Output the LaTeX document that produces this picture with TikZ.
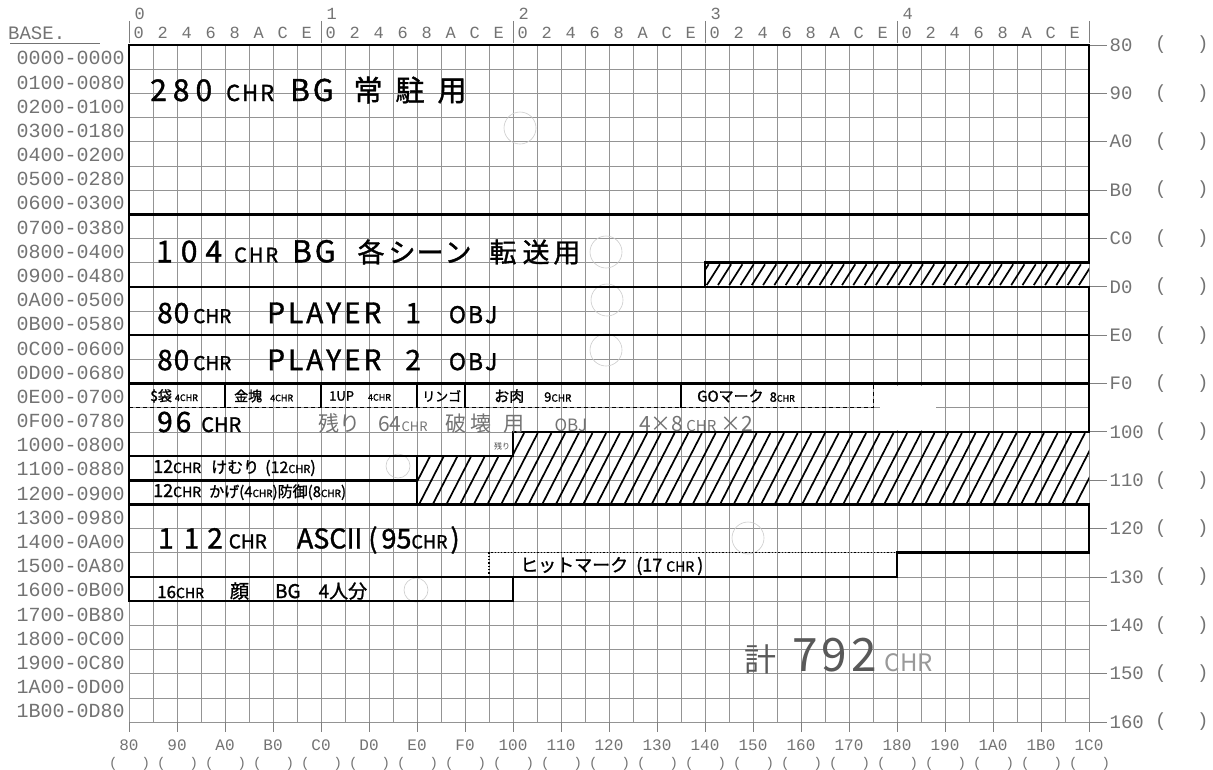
\documentclass[tikz,border=0pt]{standalone}
\usepackage{fontspec}
\newfontfamily\hand[FakeBold=1.3]{Noto Sans CJK JP}
\newfontfamily\pen{Noto Sans CJK JP}
\newfontfamily\prt{Liberation Mono}
\newcommand\fs[1]{\fontsize{#1}{#1}\selectfont}
\newcommand\hs[1]{\hspace{#1pt}}
\begin{document}
\begin{tikzpicture}[x=1pt,y=-1pt,
  gridl/.style={draw=black!42, line width=0.7pt},
  tickl/.style={draw=black!50, line width=0.8pt},
  blk/.style={draw=black, line width=2.6pt, line join=miter},
  hatchl/.style={draw=black, line width=1.7pt},
  prl/.style={font=\prt\fs{19}, text=black!55, inner sep=0pt},
  hw/.style={font=\hand, text=black, inner sep=0pt, anchor=west},
  pencil/.style={font=\pen, text=black!55, inner sep=0pt, anchor=west},
  stamp/.style={draw=black!20, line width=0.6pt, circle, minimum size=32pt, inner sep=0pt}]

\fill[white] (0,0) rectangle (1213,769);
\useasboundingbox (0,0) rectangle (1213,769);

% ---------- grid (grid units) ----------
\begin{scope}[shift={(129pt,-45pt)}, x=24pt, y=-24.18pt]
  \foreach \c in {0,...,40} \draw[gridl] (\c,0) -- (\c,28);
  \foreach \r in {0,...,28} \draw[gridl] (0,\r) -- (40,\r);
  \foreach \c in {0,2,...,40} \draw[tickl] (\c,28) -- (\c,28.4);
  \foreach \r in {0,2,...,28} \draw[tickl] (40,\r) -- (40.75,\r);
  \foreach \g in {0,...,5} \draw[tickl] (8*\g,-1.0) -- (8*\g,-0.1);
  % header labels
  \foreach \g in {0,...,4} {
    \node[prl, font=\prt\fs{17}] (hg\g) at (8*\g+0.45,-1.3) {\g};
    \foreach \d [count=\i from 0] in {0,2,4,6,8,A,C,E}
      \node[prl, font=\prt\fs{17}] (h\g-\i) at (8*\g+\i+0.4,-0.5) {\d};
  }
  % left labels
  \foreach \lab [count=\i from 0] in {0000-0000,0100-0080,0200-0100,0300-0180,0400-0200,0500-0280,0600-0300,0700-0380,0800-0400,0900-0480,0A00-0500,0B00-0580,0C00-0600,0D00-0680,0E00-0700,0F00-0780,1000-0800,1100-0880,1200-0900,1300-0980,1400-0A00,1500-0A80,1600-0B00,1700-0B80,1800-0C00,1900-0C80,1A00-0D00,1B00-0D80}
    \node[prl, anchor=east, font=\prt\fs{20}] (L\i) at (-0.17,\i+0.55) {\lab};
  % right labels
  \foreach \lab [count=\i from 0] in {80,90,A0,B0,C0,D0,E0,F0,100,110,120,130,140,150,160} {
    \node[prl, anchor=west] (R\i) at (40.85,2*\i) {\lab};
    \node[prl, anchor=west] (Ro\i) at (42.75,2*\i) {(};
    \node[prl, anchor=west] (Rc\i) at (44.5,2*\i) {)};
  }
  % bottom labels
  \foreach \lab [count=\i from 0] in {80,90,A0,B0,C0,D0,E0,F0,100,110,120,130,140,150,160,170,180,190,1A0,1B0,1C0} {
    \node[prl, font=\prt\fs{16}] (B\i) at (2*\i,28.95) {\lab};
    \node[prl, font=\prt\fs{14}] (Bo\i) at (2*\i-0.65,29.72) {(};
    \node[prl, font=\prt\fs{14}] (Bc\i) at (2*\i+0.7,29.72) {)};
  }
\end{scope}

% BASE label
\node[prl, anchor=west] (base) at (8,33) {BASE.};
\draw[draw=black!55, line width=0.7pt] (10,43) -- (100,43);

% correction fluid patch
\fill[white] (880,386) rectangle (936,430);

% faint stamps
\node[stamp] (s1) at (520,128) {};
\node[stamp] (s2) at (606,252) {};
\node[stamp] (s3) at (607,300) {};
\node[stamp] (s4) at (606,350) {};
\node[stamp, minimum size=24pt] (s5) at (398,466) {};
\node[stamp] (s6) at (748,538) {};
\node[stamp, minimum size=24pt] (s7) at (416,590) {};

% ---------- blocks (grid units) ----------
\begin{scope}[shift={(129pt,-45pt)}, x=24pt, y=-24.18pt]
  % hatching
  \begin{scope}
    \clip (24,9) rectangle (40,10);
    \foreach \s in {23.6,24.07,...,40.6} \draw[hatchl] (\s,9.93) -- (\s+0.55,9.07);
  \end{scope}
  \begin{scope}
    \clip (16,16) -- (40,16) -- (40,19) -- (12,19) -- (12,17) -- (16,17) -- cycle;
    \foreach \s in {10.4,10.97,...,40.6} \draw[hatchl] (\s,18.95) -- (\s+1.5,16.05);
  \end{scope}
  % block outlines
  \draw[blk] (0,0) rectangle (40,7);
  \draw[blk] (0,7) -- (40,7) -- (40,9) -- (24,9) -- (24,10) -- (0,10) -- cycle;
  \draw[blk] (0,10) rectangle (40,12);
  \draw[blk] (0,12) rectangle (40,14);
  \draw[blk] (0,14) -- (40,14) -- (40,16) -- (16,16) -- (16,17) -- (0,17) -- cycle;
  \draw[blk] (0,17) rectangle (12,18);
  \draw[blk] (0,18) rectangle (12,19);
  \draw[blk] (0,19) -- (40,19) -- (40,21) -- (32,21) -- (32,22) -- (0,22) -- cycle;
  \draw[blk] (0,22) rectangle (16,23);
  % row 14 subdivisions
  \draw[black, line width=1pt, dash pattern=on 4pt off 3pt] (0,15) -- (31,15) -- (31,14);
  \foreach \c in {4,8,12,14,23} \draw[black, line width=1.2pt] (\c,14) -- (\c,15);
  % hit mark dotted outline
  \draw[black, line width=1.3pt, dotted] (15,22) -- (15,21) -- (32,21);
\end{scope}

% ---------- handwritten texts ----------
\node[hw] (t1) at (150,90) {\fs{30}2\hs{6}8\hs{6}0\hs{14}\fs{22}C\hs{2}H\hs{2}R\hs{16}\fs{30}B\hs{3}G\hs{20}\fs{29}常\hs{13}駐\hs{13}用};
\node[hw] (t2) at (156,252) {\fs{30}1\hs{8}0\hs{8}4\hs{12}\fs{20}C\hs{2}H\hs{2}R\hs{14}\fs{30}B\hs{3}G\hs{22}\fs{27}各\hs{4}シ\hs{1}ー\hs{1}ン\hs{18}転\hs{6}送\hs{4}用};
\node[hw] (t3) at (157,313) {\fs{28}8\hs{1}0\hs{4}\fs{19}CHR\hs{36}\fs{28}P\hs{3}L\hs{3}A\hs{3}Y\hs{3}E\hs{3}R\hs{24}1\hs{28}\fs{23}O\hs{2}B\hs{2}J};
\node[hw] (t4) at (157,360) {\fs{28}8\hs{1}0\hs{4}\fs{19}CHR\hs{36}\fs{28}P\hs{3}L\hs{3}A\hs{3}Y\hs{3}E\hs{3}R\hs{24}2\hs{28}\fs{23}O\hs{2}B\hs{2}J};
% row 14 items
\node[hw] (a1) at (150,396) {\fs{14}\$袋\hs{3}\fs{9}4CHR};
\node[hw] (a2) at (234,396) {\fs{14}金塊\hs{8}\fs{9}4CHR};
\node[hw] (a3) at (329,396) {\fs{13}1UP\hs{14}\fs{9}4CHR};
\node[hw] (a4) at (422,396) {\fs{13}リンゴ};
\node[hw] (a5) at (494,396) {\fs{15}お肉\hs{20}\fs{13}9\fs{10}CHR};
\node[hw] (a6) at (697,396) {\fs{15}GOマーク\hs{6}\fs{13}8\fs{9}CHR};
% 96 CHR
\node[hw] (t5) at (157,422) {\fs{28}9\hs{3}6\hs{10}\fs{20}CHR};
\node[pencil] (p1) at (318,423) {\fs{21}残り\hs{18}64\fs{13}CHR\hs{18}\fs{21}破\hs{4}壊\hs{12}用\hs{30}\fs{17}OBJ\hs{52}\fs{21}4×8\hs{3}\fs{15}CHR\hs{4}\fs{21}×2};
\node[pencil, font=\pen\fs{8}, text=black!70] (p2) at (494,446) {残り};
% 12 CHR rows
\node[hw] (t6) at (153,468) {\fs{18}12\fs{14}CHR\hs{10}\fs{16}けむり\hs{6}(12\fs{11}CHR\fs{16})};
\node[hw] (t7) at (153,492) {\fs{18}12\fs{14}CHR\hs{8}\fs{15}かげ(4\fs{10}CHR\fs{15})防御(8\fs{10}CHR\fs{15})};
% ASCII
\node[hw] (t8) at (158,540) {\fs{28}1\hs{10}1\hs{8}2\hs{6}\fs{19}CHR\hs{30}\fs{27}ASCII\hs{6}(\hs{4}95\fs{18}CHR\hs{3}\fs{27})};
\node[hw] (t9) at (520,566) {\fs{18}ヒットマーク\hs{8}(17\hs{4}\fs{14}CHR\hs{3}\fs{18})};
% 16 CHR
\node[hw] (t10) at (157,591) {\fs{17}16\fs{14}CHR\hs{26}\fs{19}顔\hs{26}BG\hs{18}4人分};
% total (pencil)
\node[pencil, text=black!65] (p3) at (744,656) {\fs{32}計\hs{16}\fs{46}7\hs{4}9\hs{4}2\hs{8}\fs{24}\color{black!40}CHR};
\end{tikzpicture}
\end{document}
